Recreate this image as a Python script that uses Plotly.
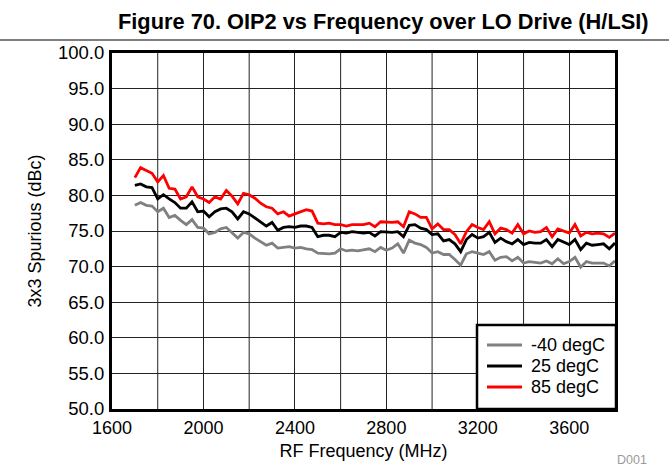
import plotly.graph_objects as go

# RF frequency sweep (MHz), 25 MHz steps
freq_mhz = list(range(1700, 3801, 25))

spur_m40 = [
    78.6, 79.0, 78.6, 78.5, 77.7, 78.2, 76.9, 77.2, 76.5, 75.9, 76.6, 75.5, 75.4, 74.6, 74.8, 75.3, 75.5, 74.8, 74.0,
    74.8, 74.6, 74.0, 73.5, 73.0, 73.3, 72.6, 72.7, 72.8, 72.6, 72.7, 72.5, 72.4, 71.9, 71.8, 71.8, 71.9, 72.5, 72.2, 72.3, 72.2, 72.3,
    72.5, 72.1, 72.7, 72.3, 72.6, 73.2, 71.9, 73.7, 73.3, 73.1, 72.7, 71.9, 72.1, 71.7, 71.7, 71.0, 70.2, 71.8, 72.1, 71.9, 71.7, 72.1,
    70.9, 71.3, 71.4, 70.8, 71.3, 70.5, 70.7, 70.6, 70.5, 70.8, 70.4, 71.1, 70.4, 70.7, 71.3, 69.9, 70.7, 70.5, 70.5, 70.5, 70.1, 70.8,
]

spur_25 = [
    81.4, 81.6, 81.2, 81.1, 79.5, 80.1, 79.5, 79.0, 78.2, 78.2, 79.1, 77.7, 77.8, 77.0, 77.7, 78.1, 78.2, 77.7, 76.7,
    77.7, 77.4, 76.8, 76.3, 75.7, 76.2, 75.1, 75.5, 75.6, 75.5, 75.7, 75.7, 75.5, 74.2, 74.4, 74.4, 74.2, 74.8, 74.7, 74.9, 74.8, 74.7,
    74.8, 74.3, 74.9, 74.8, 74.8, 74.9, 74.2, 75.8, 75.9, 75.4, 75.2, 74.5, 74.6, 73.6, 73.8, 73.2, 72.1, 73.8, 74.5, 74.0, 74.2, 74.8,
    73.4, 74.0, 73.5, 73.2, 73.8, 73.1, 73.4, 73.3, 73.3, 73.8, 72.8, 73.8, 73.4, 73.1, 73.8, 72.4, 73.3, 73.0, 73.1, 73.2, 72.5, 73.3,
]

spur_85 = [
    82.5, 83.9, 83.5, 83.1, 81.9, 82.8, 81.0, 80.9, 79.5, 79.8, 81.2, 79.8, 79.5, 79.0, 79.8, 79.5, 80.7, 79.9, 78.8,
    80.3, 80.1, 79.6, 78.9, 78.4, 78.2, 77.4, 77.7, 77.1, 77.4, 77.7, 78.0, 77.8, 76.1, 76.0, 76.1, 75.9, 75.9, 75.7, 75.9, 75.9, 75.9,
    76.1, 75.6, 76.3, 76.2, 76.2, 76.3, 75.6, 77.7, 77.4, 76.9, 76.9, 75.3, 76.0, 75.2, 75.2, 74.5, 73.2, 74.9, 75.9, 75.5, 75.2, 76.3,
    74.6, 75.4, 75.2, 74.7, 75.9, 74.6, 75.0, 74.8, 74.9, 75.5, 74.2, 75.3, 75.0, 74.7, 75.9, 74.3, 74.8, 74.6, 74.7, 74.6, 74.1, 74.7,
]

series = [
    ("-40 degC", spur_m40, "#808080"),
    ("25 degC", spur_25, "#000000"),
    ("85 degC", spur_85, "#ff0000"),
]

x_ticks = [1600, 2000, 2400, 2800, 3200, 3600]
y_ticks = [50 + 5 * i for i in range(11)]

FONT = "Liberation Sans, Arial, sans-serif"
GRID = "#222222"
LINE_W = 2.8

fig = go.Figure()
for name, vals, color in series:
    fig.add_trace(go.Scatter(
        x=freq_mhz, y=vals, mode="lines", name=name,
        line=dict(color=color, width=LINE_W), showlegend=False,
    ))

W, H = 669, 471
L, R, T, B = 112, 54, 53, 62
pw, ph = W - L - R, H - T - B

def px_x(px):
    return (px - L) / pw

def px_y(py):
    return (H - B - py) / ph

fig.update_layout(
    width=W, height=H,
    margin=dict(l=L, r=R, t=T, b=B),
    paper_bgcolor="white", plot_bgcolor="white",
    font=dict(family=FONT, size=18, color="black"),
    xaxis=dict(
        range=[1600, 3800], tickvals=x_ticks,
        showgrid=True, gridcolor=GRID, gridwidth=1,
        showline=True, linecolor="black", linewidth=3, mirror=True,
        ticks="outside", ticklen=0, tickcolor="rgba(0,0,0,0)",
        tickfont=dict(size=18),
        zeroline=False,
        title=dict(text="RF Frequency (MHz)", font=dict(size=18), standoff=8),
    ),
    yaxis=dict(
        range=[50, 100], tickvals=y_ticks, tickformat=".1f",
        showgrid=True, gridcolor=GRID, gridwidth=1,
        showline=True, linecolor="black", linewidth=3, mirror=True,
        ticks="outside", ticklen=1, tickcolor="rgba(0,0,0,0)",
        tickfont=dict(size=18.5),
        zeroline=False,
        title=dict(text="3x3 Spurious (dBc)", font=dict(size=18), standoff=12),
    ),
)

# intermediate vertical gridlines every 200 MHz
for f in range(1800, 3800, 400):
    fig.add_vline(x=f, line=dict(color=GRID, width=1), layer="below")

# boxed legend in the lower-right corner of the plot
box_l, box_r, box_t, box_b = 477, 616, 325, 409
fig.add_shape(
    type="rect", xref="paper", yref="paper",
    x0=px_x(box_l), x1=px_x(box_r), y0=px_y(box_b), y1=px_y(box_t),
    line=dict(color="black", width=2.5), fillcolor="white", layer="above",
)
for i, (name, _, color) in enumerate(series):
    row_y = 345 + 21 * i
    fig.add_shape(
        type="line", xref="paper", yref="paper",
        x0=px_x(487), x1=px_x(522), y0=px_y(row_y), y1=px_y(row_y),
        line=dict(color=color, width=LINE_W), layer="above",
    )
    fig.add_annotation(
        text=name, xref="paper", yref="paper", x=px_x(529), y=px_y(row_y),
        xanchor="left", yanchor="middle", showarrow=False,
        font=dict(size=18, family=FONT, color="black"),
    )

fig.add_annotation(
    text="<b>Figure 70. OIP2 vs Frequency over LO Drive (H/LSI)</b>",
    xref="paper", yref="paper", x=px_x(651), y=px_y(21),
    xanchor="right", yanchor="middle", showarrow=False,
    font=dict(size=21.8, family=FONT, color="black"),
)
fig.add_shape(
    type="line", xref="paper", yref="paper",
    x0=px_x(0), x1=px_x(W), y0=px_y(40), y1=px_y(40),
    line=dict(color="black", width=1.2),
)
fig.add_annotation(
    text="D001", xref="paper", yref="paper", x=px_x(649), y=px_y(460),
    xanchor="right", yanchor="middle", showarrow=False,
    font=dict(size=12.5, family=FONT, color="#9a9a9a"),
)

fig.write_html("out.html")
